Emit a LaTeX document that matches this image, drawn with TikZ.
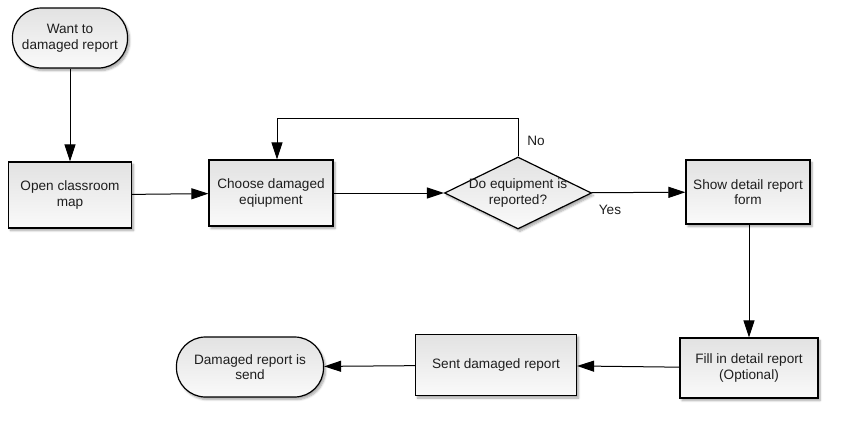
\documentclass[tikz,border=0pt]{standalone}
\usepackage{fontspec}
\setmainfont{Liberation Sans}
\usepackage{tikz}
\usetikzlibrary{positioning,calc}
\usetikzlibrary{arrows.meta,shapes.geometric,shadows.blur}
\definecolor{BoxTop}{RGB}{226,226,226}
\definecolor{BoxBot}{RGB}{250,250,250}
\definecolor{InkGray}{RGB}{30,30,30}
\tikzset{
  shade/.style={top color=BoxTop,bottom color=BoxBot,draw=black,line width=1.2pt,
    blur shadow={shadow xshift=2pt,shadow yshift=-2.5pt,shadow blur steps=6,shadow opacity=35}},
  term/.style={shade,rectangle,rounded corners=29pt,inner sep=0pt,align=center,
    font=\fontsize{13.6}{15.5}\selectfont,text=InkGray},
  proc/.style={shade,rectangle,inner sep=0pt,align=center,
    font=\fontsize{13.6}{15.5}\selectfont,text=InkGray},
  decide/.style={shade,diamond,inner sep=0pt,minimum width=147pt,minimum height=72pt},
  edge/.style={draw=black,line width=1pt,-{Triangle[length=17pt,width=11pt]}},
}
\tikzset{lab/.style={font=\fontsize{13.6}{15.5}\selectfont,text=InkGray}}

\begin{document}
\begin{tikzpicture}[x=1pt,y=-1pt]
\useasboundingbox (0,0) rectangle (844,423);
\node[term,minimum width=115pt,minimum height=60pt] (start) at (70,38) {Want to\\damaged report};
\node[proc,minimum width=123pt,minimum height=66pt] (open) at (70,195) {Open classroom\\map};
\node[proc,minimum width=124pt,minimum height=66pt] (choose) at (271,193) {Choose damaged\\eqiupment};
\node[decide,label={[lab,align=center]center:Do equipment is\\reported?}] (check) at (518,193) {};
\node[proc,minimum width=124pt,minimum height=64pt] (show) at (748,192) {Show detail report\\form};
\node[proc,minimum width=138pt,minimum height=60pt] (fill) at (749,368) {Fill in detail report\\(Optional)};
\node[proc,minimum width=161pt,minimum height=61pt] (sent) at (496,365) {Sent damaged report};
\node[term,minimum width=147pt,minimum height=60pt] (done) at (250,367) {Damaged report is\\send};
\coordinate (back) at (277,118);
\draw[edge] (start) -- (open);
\draw[edge] (open) -- (choose);
\draw[edge] (choose) -- (check);
\draw[edge] (check) -- (show);
\draw[edge] (check.north) |- (back) -- (back |- choose.north);
\draw[edge] (show.south -| fill.north) -- (fill.north);
\draw[edge] (fill) -- (sent);
\draw[edge] (sent) -- (done);
\node[lab] (no) at (536,141) {No};
\node[lab] (yes) at (610,210) {Yes};
\end{tikzpicture}
\end{document}
